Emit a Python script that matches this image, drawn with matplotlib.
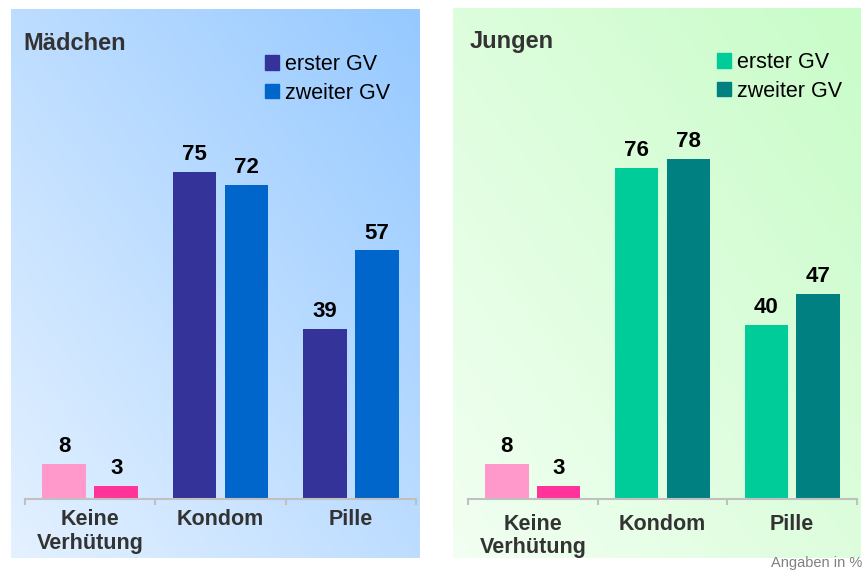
import numpy as np
import matplotlib
matplotlib.use("Agg")
import matplotlib.pyplot as plt
from matplotlib.colors import LinearSegmentedColormap
from matplotlib.patches import Patch

plt.rcParams["font.family"] = ["Liberation Sans", "DejaVu Sans"]

W, H = 863, 571  # output size in px (dpi 100)

categories = ["Keine\nVerhütung", "Kondom", "Pille"]
series_labels = ["erster GV", "zweiter GV"]
maedchen_first = [8, 75, 39]
maedchen_second = [3, 72, 57]
jungen_first = [8, 76, 40]
jungen_second = [3, 78, 47]

none_colors = ["#ff99cc", "#ff3399"]
maedchen_colors = ["#333399", "#0066cc"]
jungen_colors = ["#00cc99", "#008080"]


def frac(x0, y0, x1, y1):
    """Pixel box (top-down coords) -> figure fraction rect."""
    return [x0 / W, 1 - y1 / H, (x1 - x0) / W, (y1 - y0) / H]


def panel(fig, box, plot_x, grad, title, title_xy, first, second, colors,
          legend_xy, label_pad):
    # gradient background, light at bottom-left, stronger at top-right
    bg = fig.add_axes(frac(*box), zorder=0)
    bg.axis("off")
    gx = np.linspace(0, 1, 200)
    gy = np.linspace(1, 0, 200)
    t = (gx[None, :] + gy[:, None]) / 2
    cmap = LinearSegmentedColormap.from_list("bg", grad)
    bg.imshow(t, cmap=cmap, aspect="auto", extent=(0, 1, 0, 1), vmin=0, vmax=1)

    ax = fig.add_axes(frac(plot_x[0], 63, plot_x[1], 499), zorder=1)
    ax.set_facecolor("none")
    ax.set_xlim(-0.5, 2.5)
    ax.set_ylim(0, 100)

    x = np.arange(len(categories))
    offsets = [-0.2, 0.2]
    for j, vals in enumerate([first, second]):
        cols = [none_colors[j]] + [colors[j]] * (len(vals) - 1)
        bars = ax.bar(x + offsets[j], vals, width=0.335, color=cols)
        for b, v in zip(bars, vals):
            ax.annotate(str(v), (b.get_x() + b.get_width() / 2, v),
                        xytext=(0, 8.6), textcoords="offset points",
                        ha="center", va="baseline", fontsize=16,
                        fontweight="bold", color="black")

    for s in ["left", "right", "top"]:
        ax.spines[s].set_visible(False)
    ax.spines["bottom"].set_color("#c0c0c0")
    ax.spines["bottom"].set_linewidth(1.5)
    ax.set_yticks([])
    ax.set_xticks([-0.5, 0.5, 1.5, 2.5])
    ax.set_xticklabels([])
    ax.tick_params(axis="x", which="major", direction="out", length=4,
                   width=1.5, color="#c0c0c0")
    ax.set_xticks(x, minor=True)
    ax.set_xticklabels(categories, minor=True, fontsize=15.5,
                       fontweight="bold", color="#333333")
    ax.tick_params(axis="x", which="minor", length=0, pad=label_pad)
    for lbl in ax.get_xticklabels(minor=True):
        lbl.set_linespacing(1.15)

    fig.text(title_xy[0] / W, 1 - title_xy[1] / H, title, fontsize=17,
             fontweight="bold", color="#333333", ha="left", va="baseline")

    handles = [Patch(color=c) for c in colors]
    fig.legend(handles, series_labels, loc="upper left",
               bbox_to_anchor=(legend_xy[0] / W, 1 - legend_xy[1] / H),
               frameon=False, fontsize=15.5, handlelength=0.65,
               handleheight=0.65, handletextpad=0.3, labelspacing=0.35,
               borderpad=0, borderaxespad=0)


fig = plt.figure(figsize=(W / 100, H / 100), dpi=100)
fig.patch.set_facecolor("white")

panel(fig, (11, 9, 419, 558), (25, 416), ["#e4f1ff", "#96c9ff"],
      "Mädchen", (23, 50), maedchen_first, maedchen_second, maedchen_colors,
      (265, 54), 7.5)
panel(fig, (453, 8, 860, 558), (468, 857), ["#f2fff2", "#c8fcc8"],
      "Jungen", (470, 48), jungen_first, jungen_second, jungen_colors,
      (717, 52), 10.5)

fig.text(862 / W, 1 - 563 / H, "Angaben in %", fontsize=10.5,
         color="#808080", ha="right", va="center")

fig.savefig("out.png", dpi=100)
